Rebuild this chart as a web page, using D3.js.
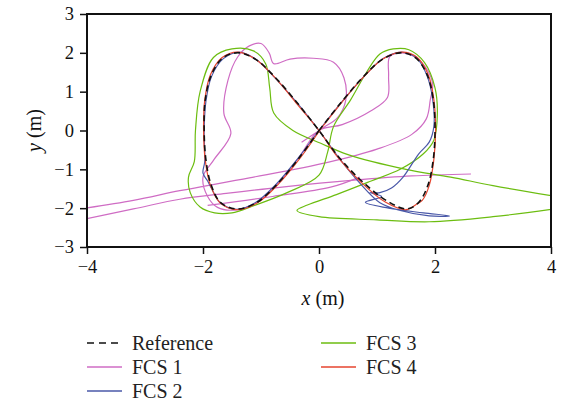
<!DOCTYPE html>
<html>
<head>
<meta charset="utf-8">
<script src="https://cdn.jsdelivr.net/npm/d3@7"></script>
<style>
  body { margin: 0; background: #fff; }
  svg { font-family: "Liberation Serif", "DejaVu Serif", serif; }
</style>
</head>
<body>
<div id="chart"></div>
<script>
// Tick values
const xTicks = [-4, -2, 0, 2, 4];
const yTicks = [-3, -2, -1, 0, 1, 2, 3];

// Series names (legend order)
const seriesNames = ["Reference", "FCS 1", "FCS 2", "FCS 3", "FCS 4"];

// Trajectories, [x, y] in metres
const reference = [[0,0],[0.38,0.72],[0.75,1.36],[1.08,1.82],[1.4,2.0],[1.66,1.88],[1.86,1.45],[1.97,0.8],[2.0,0],
  [1.97,-0.75],[1.88,-1.4],[1.72,-1.85],[1.52,-2.02],[1.18,-1.82],[0.75,-1.32],[0.35,-0.7],[0,0],
  [-0.38,0.72],[-0.75,1.36],[-1.08,1.82],[-1.38,2.0],[-1.65,1.88],[-1.85,1.45],[-1.96,0.8],[-1.98,0],
  [-1.95,-0.75],[-1.86,-1.4],[-1.7,-1.85],[-1.42,-2.02],[-1.08,-1.86],[-0.72,-1.38],[-0.35,-0.72],[0,0]];

const fcs1 = [[2.62,-1.12],[1.6,-1.17],[0.6,-1.28],[-0.6,-1.45],[-1.6,-1.62],[-2.4,-1.77],[-3.2,-2.02],[-4.3,-2.36]];
const fcs1b = [[-4.3,-2.06],[-3.2,-1.8],[-2.4,-1.55],[-1.2,-1.22],[0.15,-0.82],[1.0,-0.48],[1.6,-0.1],[1.85,0.3],
  [1.92,0.8],[1.96,1.2],[1.85,1.6],[1.65,1.9],[1.42,2.0],[1.22,1.9],[1.2,1.4],[1.18,0.85],[0.89,0.5],[0.4,0.15],
  [0,0],[-0.35,-0.7],[-0.72,-1.38],[-1.1,-1.88],[-1.45,-2.05],[-1.75,-1.98],[-1.92,-1.7],[-2.0,-1.2],[-1.82,-0.77],
  [-1.52,-0.08],[-1.64,0.44],[-1.57,1.29],[-1.4,1.9],[-1.2,2.18],[-1.0,2.24],[-0.86,2.0],[-0.78,1.72],
  [-0.5,1.84],[-0.1,1.86],[0.25,1.76],[0.43,1.36],[0.46,0.77],[0.32,0.33],[0.08,0.08],[-0.3,-0.3]];
const fcs1c = [[-1.92,-1.93],[-0.8,-1.7],[0.2,-1.46],[0.7,-1.2]];

const fcs2 = [[0,0],[0.4,0.75],[0.78,1.4],[1.1,1.85],[1.42,2.02],[1.68,1.87],[1.86,1.42],[1.96,0.8],[1.98,0.1],
  [1.9,-0.3],[1.72,-0.6],[1.45,-1.2],[1.25,-1.48],[1.05,-1.6],[0.88,-1.6],[1.08,-1.7],[0.8,-1.85],[1.2,-2.0],[1.8,-2.12],
  [2.25,-2.2],[1.9,-2.2],[1.4,-2.06],[1.05,-1.86],[0.7,-1.35],[0.35,-0.72],[0,0],
  [-0.4,0.75],[-0.8,1.42],[-1.1,1.85],[-1.38,2.02],[-1.65,1.85],[-1.85,1.4],[-1.95,0.75],[-1.98,0],
  [-1.97,-0.8],[-2.0,-1.1],[-1.92,-1.3],[-1.85,-1.5],[-1.7,-1.86],[-1.42,-2.03],[-1.1,-1.86],[-0.75,-1.4],[-0.38,-0.75],[0,0]];

const fcs3 = [[4.3,-1.75],[3.0,-1.42],[2.27,-1.2],[1.5,-1.0],[0.5,-0.62],[0.03,-0.33],[-0.45,0],[-0.78,0.45],
  [-0.85,1.1],[-0.92,1.72],[-1.13,2.05],[-1.5,2.1],[-1.82,1.88],[-2.05,1.0],[-2.13,0],[-2.15,-0.8],[-2.25,-1.2],
  [-2.22,-1.6],[-2.05,-1.97],[-1.8,-2.12],[-1.5,-2.12],[-1.15,-1.95],[-0.55,-1.6],[0.0,-1.15],[0.15,-0.55],
  [0.25,0.1],[0.55,0.8],[0.82,1.5],[1.05,1.97],[1.28,2.1],[1.55,2.08],[1.82,1.75],[2.0,1.1],[2.04,0.4],
  [1.98,-0.25],[1.8,-0.6],[1.4,-1.0],[0.9,-1.3],[0.3,-1.65],[-0.2,-1.92],[-0.38,-2.06],[0.0,-2.22],
  [1.0,-2.3],[1.9,-2.35],[3.0,-2.22],[4.3,-1.97]];

const fcs4 = [[0.02,0.02],[0.4,0.74],[0.77,1.38],[1.1,1.84],[1.42,2.02],[1.68,1.9],[1.88,1.45],[1.98,0.8],[2.01,0],
  [1.98,-0.75],[1.9,-1.42],[1.78,-1.8],[1.68,-1.9],[1.5,-2.04],[1.15,-1.85],[0.73,-1.34],[0.33,-0.7],[0,0],
  [-0.4,0.72],[-0.77,1.38],[-1.1,1.84],[-1.4,2.02],[-1.67,1.88],[-1.87,1.44],[-1.97,0.78],[-1.99,0],
  [-1.96,-0.78],[-1.87,-1.42],[-1.7,-1.87],[-1.42,-2.04],[-1.06,-1.86],[-0.7,-1.38],[-0.33,-0.72],[0.02,0.02]];

// Layout
const W = 568, H = 404;
const margin = {top: 14, right: 17, bottom: 157, left: 87};
const width = W - margin.left - margin.right,
      height = H - margin.top - margin.bottom;

const colors = {"Reference": "#111", "FCS 1": "#cf6cc4", "FCS 2": "#4a58a8", "FCS 3": "#6cbd10", "FCS 4": "#e6452f"};

const x = d3.scaleLinear().domain([-4, 4]).range([0, width]);
const y = d3.scaleLinear().domain([-3, 3]).range([height, 0]);

const svg = d3.select("#chart").append("svg")
  .attr("width", W)
  .attr("height", H);

const g = svg.append("g")
  .attr("transform", "translate(" + margin.left + "," + margin.top + ")");

g.append("clipPath").attr("id", "clip")
  .append("rect").attr("width", width).attr("height", height);

const line = d3.line()
  .x(d => x(d[0]))
  .y(d => y(d[1]))
  .curve(d3.curveCatmullRom.alpha(0.5));

const plot = g.append("g").attr("clip-path", "url(#clip)");

const drawn = [
  {name: "FCS 1", data: fcs1}, {name: "FCS 1", data: fcs1b}, {name: "FCS 1", data: fcs1c},
  {name: "FCS 3", data: fcs3},
  {name: "FCS 2", data: fcs2},
  {name: "FCS 4", data: fcs4},
  {name: "Reference", data: reference}
];

plot.selectAll(".traj")
  .data(drawn)
  .enter().append("path")
  .attr("class", "traj")
  .attr("d", d => line(d.data))
  .attr("fill", "none")
  .attr("stroke", d => colors[d.name])
  .attr("stroke-width", d => d.name === "Reference" ? 1.6 : 1.2)
  .attr("stroke-dasharray", d => d.name === "Reference" ? "6,4" : null);

// Axes
const xAxis = g.append("g")
  .attr("transform", "translate(0," + height + ")")
  .call(d3.axisBottom(x).tickValues(xTicks).tickFormat(d3.format("d")).tickSize(7).tickSizeOuter(0).tickPadding(6));
const yAxis = g.append("g")
  .call(d3.axisLeft(y).tickValues(yTicks).tickFormat(d3.format("d")).tickSize(7).tickSizeOuter(0).tickPadding(6));

[xAxis, yAxis].forEach(a => {
  a.select(".domain").remove();
  a.selectAll("line").attr("stroke", "#111").attr("stroke-width", 1.5);
  a.selectAll("text").attr("fill", "#111").style("font-size", "18.5px")
    .style("font-family", "'Liberation Serif', serif");
});

// Frame
g.append("rect")
  .attr("width", width)
  .attr("height", height)
  .attr("fill", "none")
  .attr("stroke", "#111")
  .attr("stroke-width", 2);

// Axis titles
const xLab = svg.append("text")
  .attr("x", margin.left + x(0) + 4)
  .attr("y", 305)
  .attr("text-anchor", "middle")
  .style("font-size", "20px")
  .attr("fill", "#111");
xLab.append("tspan").style("font-style", "italic").text("x");
xLab.append("tspan").text(" (m)");

const yLab = svg.append("text")
  .attr("transform", "translate(41," + (margin.top + y(0)) + ") rotate(-90)")
  .attr("text-anchor", "middle")
  .style("font-size", "20px")
  .attr("fill", "#111");
yLab.append("tspan").style("font-style", "italic").text("y");
yLab.append("tspan").text(" (m)");

// Legend
const legendPos = [[87, 343], [87, 367], [87, 391], [321, 343], [321, 367]];
const legend = svg.selectAll(".legend")
  .data(seriesNames)
  .enter().append("g")
  .attr("class", "legend")
  .attr("transform", (d, i) => "translate(" + legendPos[i][0] + "," + legendPos[i][1] + ")");

legend.append("line")
  .attr("x1", 0).attr("x2", 35)
  .attr("stroke", d => colors[d])
  .attr("stroke-width", 1.6)
  .attr("stroke-dasharray", d => d === "Reference" ? "7,5" : null);

legend.append("text")
  .attr("x", 45)
  .attr("y", 6.5)
  .style("font-size", "20px")
  .attr("fill", "#222")
  .text(d => d);
</script>
</body>
</html>
